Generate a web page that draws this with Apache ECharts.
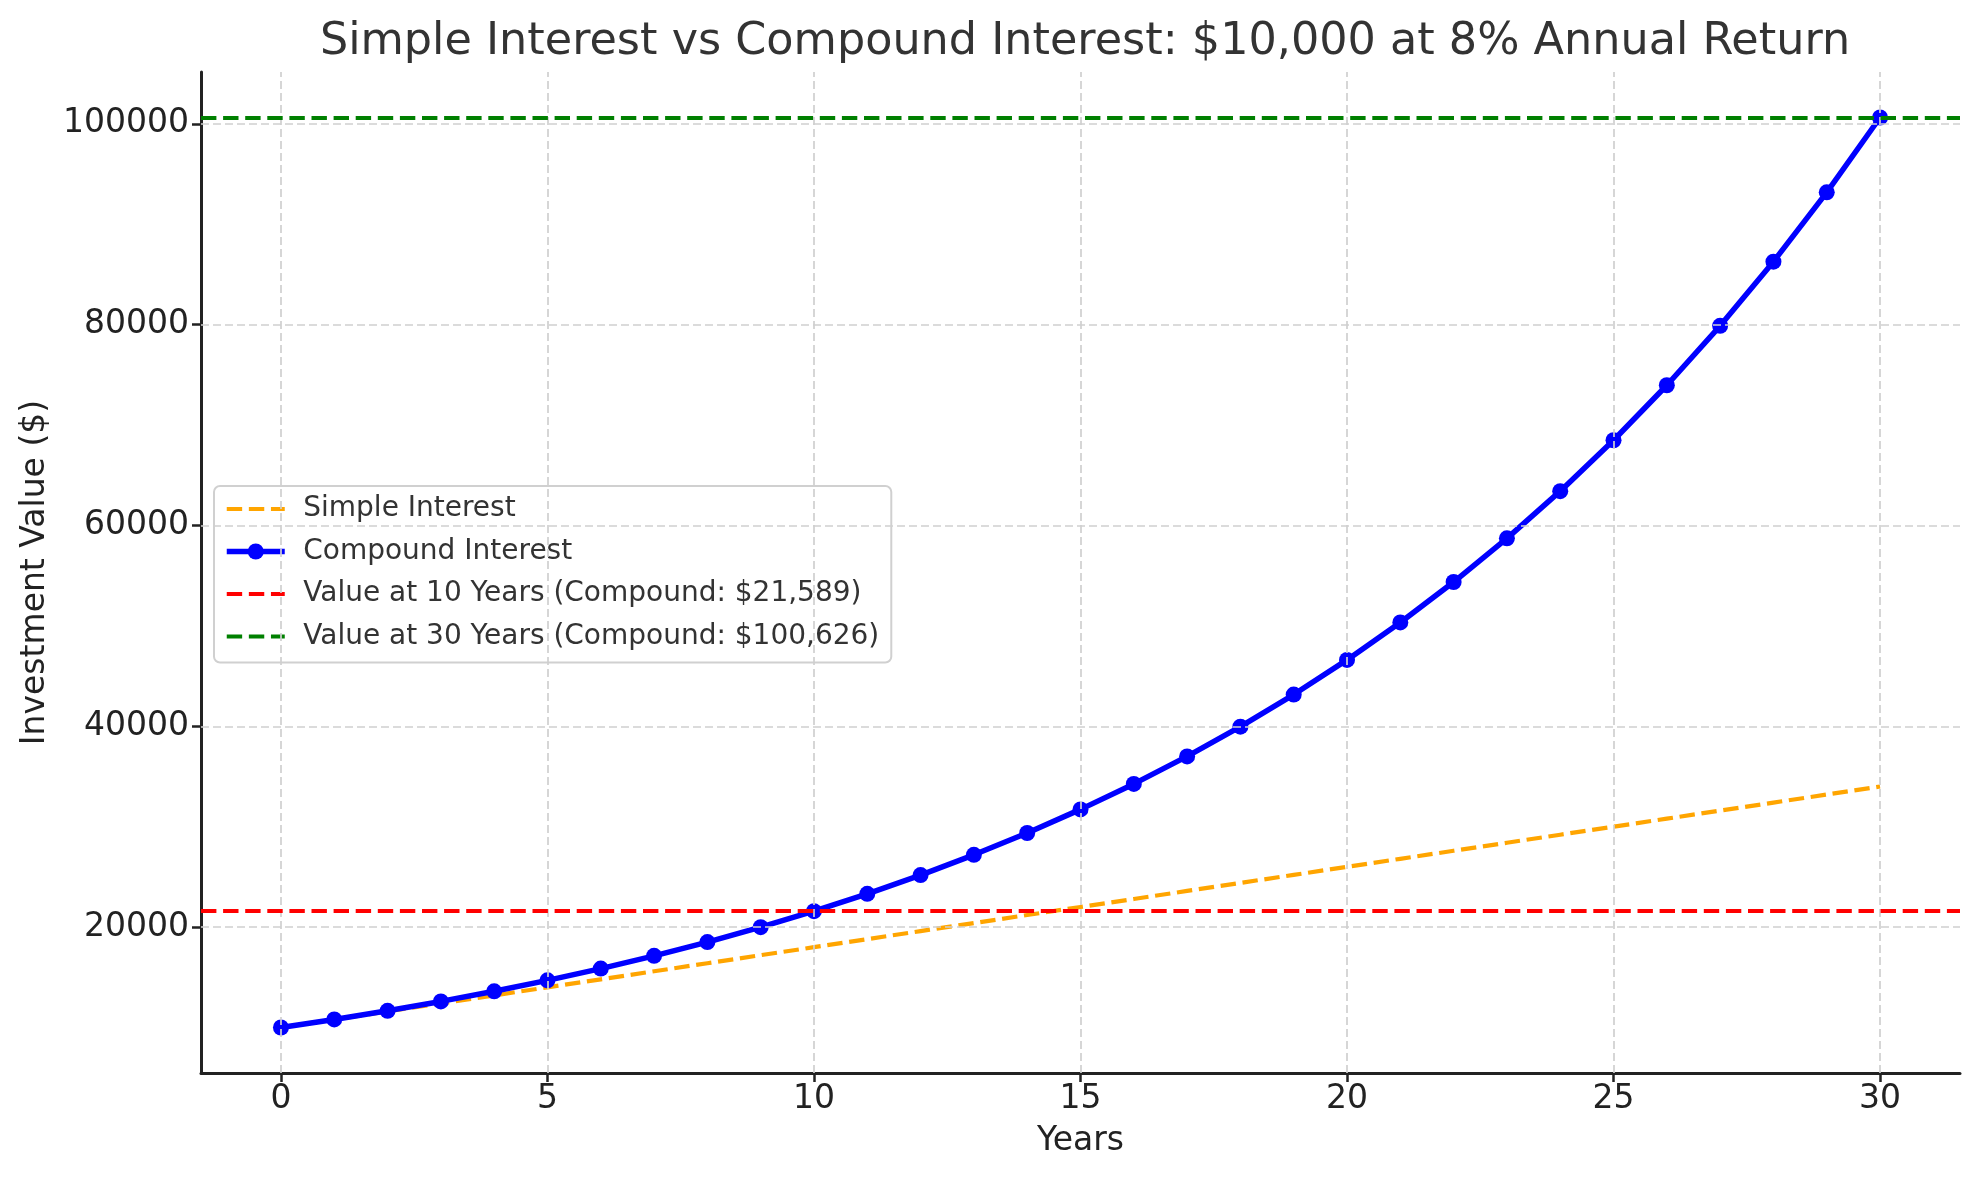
<!DOCTYPE html>
<html>
<head>
<meta charset="utf-8">
<title>Simple vs Compound Interest</title>
<script src="https://cdn.jsdelivr.net/npm/echarts@6/dist/echarts.min.js"></script>
<style>
  html, body { margin: 0; padding: 0; background: #fff; }
  #interestChart { width: 1979px; height: 1180px; }
</style>
</head>
<body>
<div id="interestChart"></div>
<script>
// years on the x axis
var years = [0, 1, 2, 3, 4, 5, 6, 7, 8, 9, 10, 11, 12, 13, 14, 15,
  16, 17, 18, 19, 20, 21, 22, 23, 24, 25, 26, 27, 28, 29, 30];

// simple interest, $10,000 at 8%
var simpleValues = [10000, 10800, 11600, 12400, 13200, 14000, 14800, 15600, 16400, 17200,
  18000, 18800, 19600, 20400, 21200, 22000, 22800, 23600, 24400, 25200,
  26000, 26800, 27600, 28400, 29200, 30000, 30800, 31600, 32400, 33200, 34000];

// compound interest, $10,000 at 8%
var compoundValues = [10000, 10800, 11664, 12597.12, 13604.89, 14693.28, 15868.74, 17138.24,
  18509.30, 19990.05, 21589.25, 23316.39, 25181.70, 27196.24, 29371.94, 31721.69,
  34259.43, 37000.18, 39960.20, 43157.01, 46609.57, 50338.34, 54365.40, 58714.64,
  63411.81, 68484.75, 73963.53, 79880.61, 86271.06, 93172.75, 100626.57];

// reference lines
var value10Years = 21589.25;
var value30Years = 100626.57;

// tick labels
var xTicks = [0, 5, 10, 15, 20, 25, 30];
var yTicks = [20000, 40000, 60000, 80000, 100000];

var seriesNames = [
  'Simple Interest',
  'Compound Interest',
  'Value at 10 Years (Compound: $21,589)',
  'Value at 30 Years (Compound: $100,626)'
];

var FONT = 'DejaVu Sans';
var DASH = [15.4, 6.7];

function pairs(xs, ys) {
  var out = [];
  for (var i = 0; i < xs.length; i++) {
    out.push([xs[i], ys[i]]);
  }
  return out;
}

// matplotlib style 5% margins around the data
var xMin = -1.5, xMax = 31.5;
var yMin = 5468.67, yMax = 105157.9;

var noDot = { color: 'rgba(0,0,0,0)', borderWidth: 0 };

var myChart = echarts.init(document.getElementById('interestChart'));

var option = {
  animation: false,
  backgroundColor: '#ffffff',
  title: {
    text: 'Simple Interest vs Compound Interest: $10,000 at 8% Annual Return',
    left: 1080,
    top: 15,
    textAlign: 'center',
    textStyle: {
      fontFamily: FONT,
      fontSize: 44.5,
      fontWeight: 'normal',
      color: '#333333'
    }
  },
  legend: {
    orient: 'vertical',
    left: 214,
    top: 486,
    data: [
      { name: seriesNames[0], itemStyle: noDot, lineStyle: { color: '#ffa500', width: 4.2, type: DASH } },
      { name: seriesNames[1], itemStyle: { color: '#0000ff', borderWidth: 0 }, lineStyle: { color: '#0000ff', width: 5.5 } },
      { name: seriesNames[2], itemStyle: noDot, lineStyle: { color: '#ff0000', width: 4.2, type: DASH } },
      { name: seriesNames[3], itemStyle: noDot, lineStyle: { color: '#008000', width: 4.2, type: DASH } }
    ],
    itemWidth: 58,
    itemHeight: 20,
    itemGap: 14.5,
    padding: [9, 12, 12, 10],
    backgroundColor: 'rgba(255,255,255,0.8)',
    borderColor: '#d0d0d0',
    borderWidth: 2,
    borderRadius: 6,
    textStyle: {
      fontFamily: FONT,
      fontSize: 28,
      color: '#333333',
      padding: [0, 0, 0, 13.5],
      lineHeight: 28
    }
  },
  grid: {
    left: 201,
    right: 19,
    top: 72,
    bottom: 107,
    containLabel: false,
    outerBoundsMode: 'none'
  },
  xAxis: {
    type: 'value',
    min: xMin,
    max: xMax,
    name: 'Years',
    nameLocation: 'middle',
    nameGap: 52,
    nameTextStyle: { fontFamily: FONT, fontSize: 33, color: '#222222' },
    axisLine: { show: true, onZero: false, lineStyle: { color: '#222222', width: 3 } },
    axisTick: {
      show: true,
      customValues: xTicks,
      length: 9,
      lineStyle: { color: '#222222', width: 2.5 }
    },
    axisLabel: {
      customValues: xTicks,
      margin: 10,
      fontFamily: FONT,
      fontSize: 33,
      color: '#222222',
      formatter: function (v) { return String(v); }
    },
    splitLine: { show: false }
  },
  yAxis: {
    type: 'value',
    min: yMin,
    max: yMax,
    name: 'Investment Value ($)',
    nameLocation: 'middle',
    nameGap: 140,
    nameTextStyle: { fontFamily: FONT, fontSize: 33, color: '#222222' },
    axisLine: { show: true, onZero: false, lineStyle: { color: '#222222', width: 3 } },
    axisTick: {
      show: true,
      customValues: yTicks,
      length: 9,
      lineStyle: { color: '#222222', width: 2.5 }
    },
    axisLabel: {
      customValues: yTicks,
      margin: 12,
      fontFamily: FONT,
      fontSize: 33,
      color: '#222222',
      formatter: function (v) { return String(v); }
    },
    splitLine: { show: false }
  },
  series: [
    //grid lines, drawn under everything else
    {
      name: 'gridlines',
      type: 'line',
      data: [],
      silent: true,
      z: 1,
      markLine: {
        silent: true,
        symbol: 'none',
        label: { show: false },
        lineStyle: { color: '#cfcfcf', width: 1.7, type: [8, 4] },
        data: xTicks.map(function (v) { return { xAxis: v }; })
          .concat(yTicks.map(function (v) { return { yAxis: v }; }))
      }
    },
    {
      name: seriesNames[0],
      type: 'line',
      data: pairs(years, simpleValues),
      showSymbol: false,
      symbol: 'none',
      z: 3,
      itemStyle: { color: '#ffa500' },
      lineStyle: { color: '#ffa500', width: 4.2, type: DASH }
    },
    {
      name: seriesNames[1],
      type: 'line',
      data: pairs(years, compoundValues),
      symbol: 'circle',
      symbolSize: 16,
      z: 4,
      itemStyle: { color: '#0000ff', borderWidth: 0 },
      lineStyle: { color: '#0000ff', width: 5.5 }
    },
    {
      name: seriesNames[2],
      type: 'line',
      data: [],
      symbol: 'none',
      z: 5,
      itemStyle: { color: '#ff0000' },
      lineStyle: { color: '#ff0000', width: 4.2, type: DASH },
      markLine: {
        silent: true,
        symbol: 'none',
        label: { show: false },
        lineStyle: { color: '#ff0000', width: 4.2, type: DASH },
        data: [{ yAxis: value10Years }]
      }
    },
    {
      name: seriesNames[3],
      type: 'line',
      data: [],
      symbol: 'none',
      z: 6,
      itemStyle: { color: '#008000' },
      lineStyle: { color: '#008000', width: 4.2, type: DASH },
      markLine: {
        silent: true,
        symbol: 'none',
        label: { show: false },
        lineStyle: { color: '#008000', width: 4.2, type: DASH },
        data: [{ yAxis: value30Years }]
      }
    }
  ]
};

myChart.setOption(option);
</script>
</body>
</html>
